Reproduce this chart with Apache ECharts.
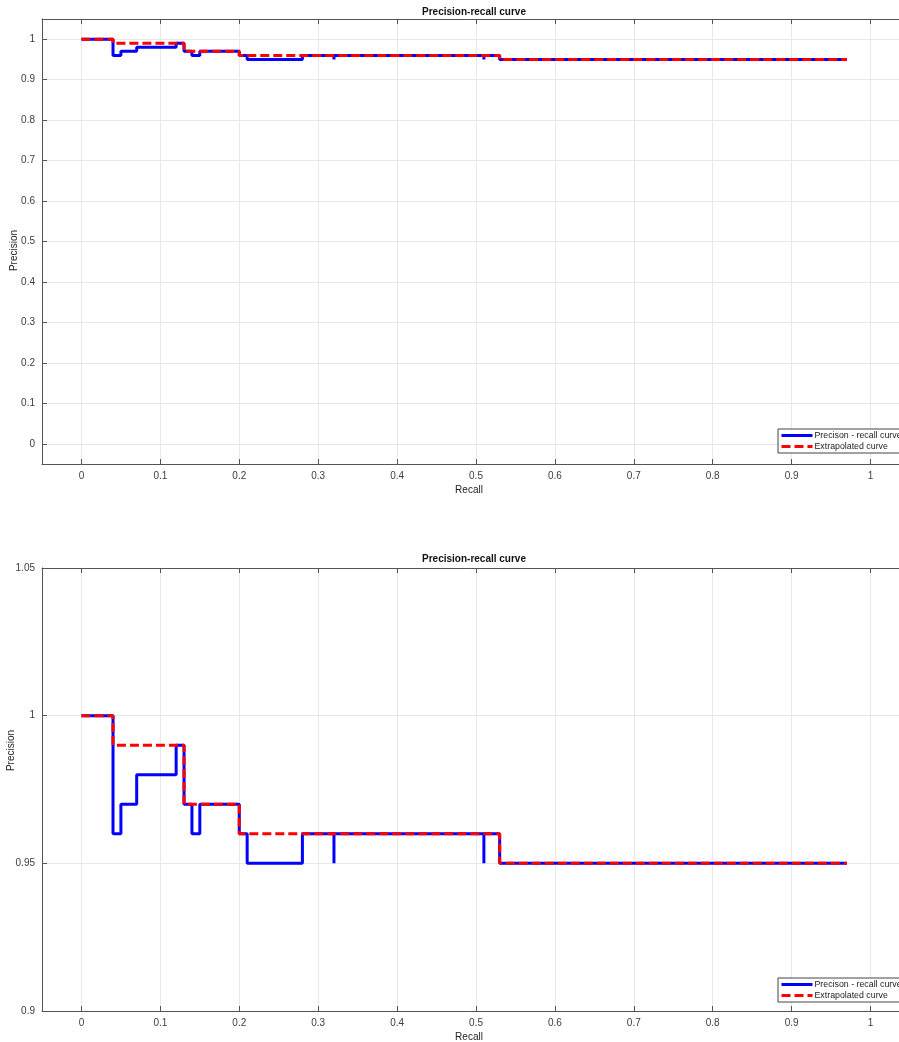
<!DOCTYPE html>
<html>
<head>
<meta charset="utf-8">
<script src="https://cdn.jsdelivr.net/npm/echarts@6/dist/echarts.min.js"></script>
<style>
  html, body { margin: 0; padding: 0; background: #ffffff; }
  #chart { width: 899px; height: 1042px; }
</style>
</head>
<body>
<div id="chart"></div>
<script>
// Precision / recall points of the detector (step curve, horizontal then vertical)
const recall    = [0, 0.04, 0.05, 0.07, 0.12, 0.13, 0.14, 0.15, 0.20, 0.21, 0.28, 0.32, 0.32, 0.51, 0.51, 0.53, 0.97];
const precision = [1, 0.96, 0.97, 0.98, 0.99, 0.97, 0.96, 0.97, 0.96, 0.95, 0.96, 0.95, 0.96, 0.95, 0.96, 0.95, 0.95];

// Interpolated (extrapolated) precision envelope
const extrapRecall    = [0, 0.04, 0.13, 0.20, 0.53, 0.97];
const extrapPrecision = [1, 0.99, 0.97, 0.96, 0.95, 0.95];

// Tick values
const xTicks      = [0, 0.1, 0.2, 0.3, 0.4, 0.5, 0.6, 0.7, 0.8, 0.9, 1];
const yTicksFull  = [0, 0.1, 0.2, 0.3, 0.4, 0.5, 0.6, 0.7, 0.8, 0.9, 1];
const yTicksZoom  = [0.9, 0.95, 1, 1.05];

const titleText = 'Precision-recall curve';
const seriesNames = ['Precison - recall curve', 'Extrapolated curve'];

const prData = recall.map((r, i) => [r, precision[i]]);
const exData = extrapRecall.map((r, i) => [r, extrapPrecision[i]]);

const FONT = 'Liberation Sans, Arial, Helvetica, sans-serif';
const axisColor = '#555555';
const labelColor = '#3c3c3c';
const gridColor = '#e8e8e8';

const fmt = v => (+v.toFixed(2)).toString();

function xAxisMain(gridIndex) {
  return {
    type: 'value', gridIndex, min: -0.05, max: 1.05,
    name: 'Recall', nameLocation: 'middle', nameGap: 21, nameMoveOverlap: false,
    nameTextStyle: { fontFamily: FONT, fontSize: 10, color: '#222', padding: [0, 14, 0, 0] },
    axisLine: { show: true, onZero: false, lineStyle: { color: axisColor, width: 1 } },
    axisTick: { show: true, inside: true, length: 5, customValues: xTicks, lineStyle: { color: axisColor } },
    axisLabel: { show: true, customValues: xTicks, formatter: fmt, fontFamily: FONT, fontSize: 10, color: labelColor, margin: 7 },
    splitLine: { show: true, lineStyle: { color: gridColor, width: 1 } }
  };
}
function xAxisTop(gridIndex) {
  return {
    type: 'value', gridIndex, min: -0.05, max: 1.05, position: 'top',
    axisLine: { show: true, onZero: false, lineStyle: { color: axisColor, width: 1 } },
    axisTick: { show: true, inside: true, length: 5, customValues: xTicks, lineStyle: { color: axisColor } },
    axisLabel: { show: false },
    splitLine: { show: false }
  };
}
function yAxisMain(gridIndex, min, max, ticks, gap, padding) {
  return {
    type: 'value', gridIndex, min, max,
    name: 'Precision', nameLocation: 'middle', nameGap: gap, nameMoveOverlap: false,
    nameTextStyle: { fontFamily: FONT, fontSize: 10, color: '#222', padding },
    axisLine: { show: true, onZero: false, lineStyle: { color: axisColor, width: 1 } },
    axisTick: { show: true, inside: true, length: 5, customValues: ticks, lineStyle: { color: axisColor } },
    axisLabel: { show: true, customValues: ticks, formatter: fmt, fontFamily: FONT, fontSize: 10, color: labelColor, margin: 7 },
    splitLine: { show: true, lineStyle: { color: gridColor, width: 1 } }
  };
}

function seriesPair(xIdx, yIdx) {
  return [
    {
      name: seriesNames[0], type: 'line', xAxisIndex: xIdx, yAxisIndex: yIdx,
      data: prData, step: 'end', symbol: 'none', animation: false, z: 2,
      lineStyle: { color: '#0000ff', width: 3 }, itemStyle: { color: '#0000ff' }
    },
    {
      name: seriesNames[1], type: 'line', xAxisIndex: xIdx, yAxisIndex: yIdx,
      data: exData, step: 'end', symbol: 'none', animation: false, z: 3,
      lineStyle: { color: '#ff0000', width: 3, type: [9, 4] }, itemStyle: { color: '#ff0000' }
    }
  ];
}

function legendAt(top) {
  return {
    data: seriesNames, orient: 'vertical', left: 778, top,
    backgroundColor: '#ffffff', borderColor: '#444', borderWidth: 1,
    padding: [2, 20, 2, 2], itemGap: 2, itemWidth: 31, itemHeight: 11,
    itemStyle: { color: 'rgba(0,0,0,0)', borderWidth: 0, opacity: 0 },
    lineStyle: { width: 3 },
    textStyle: { fontFamily: FONT, fontSize: 8.8, color: '#222', padding: [0, 0, 0, -3] },
    selectedMode: false
  };
}

const chart = echarts.init(document.getElementById('chart'), null, { renderer: 'canvas' });
chart.setOption({
  backgroundColor: '#ffffff',
  animation: false,
  title: [
    { text: titleText, left: 469, top: 2, textAlign: 'center',
      textStyle: { fontFamily: FONT, fontSize: 10, fontWeight: 'bold', color: '#111' } },
    { text: titleText, left: 469, top: 549, textAlign: 'center',
      textStyle: { fontFamily: FONT, fontSize: 10, fontWeight: 'bold', color: '#111' } }
  ],
  grid: [
    { left: 42, top: 19, width: 868, height: 445, containLabel: false, outerBoundsMode: 'none' },
    { left: 42, top: 568, width: 868, height: 443, containLabel: false, outerBoundsMode: 'none' }
  ],
  xAxis: [xAxisMain(0), xAxisTop(0), xAxisMain(1), xAxisTop(1)],
  yAxis: [
    yAxisMain(0, -0.05, 1.05, yTicksFull, 23, [0, 18, 0, 0]),
    yAxisMain(1, 0.9, 1.05, yTicksZoom, 26, [0, 0, 0, 78])
  ],
  legend: [legendAt(429), legendAt(978)],
  series: [...seriesPair(0, 0), ...seriesPair(2, 1)]
});
</script>
</body>
</html>
